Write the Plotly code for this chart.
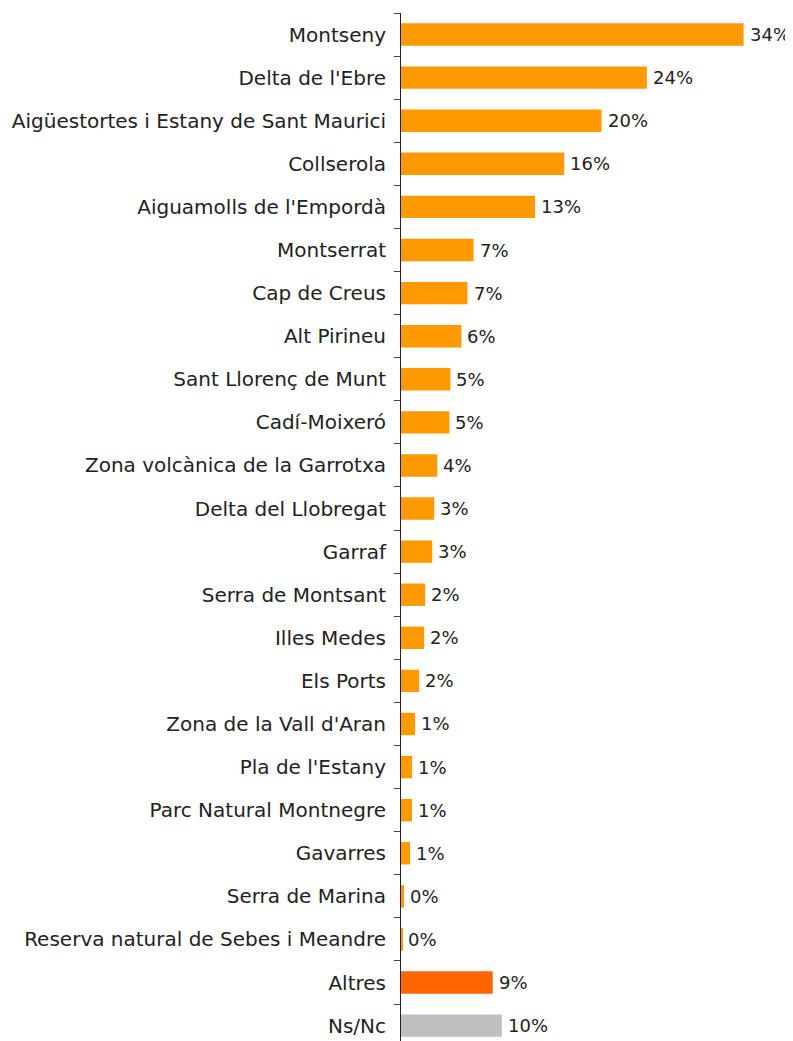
import plotly.graph_objects as go

# Parcs naturals (ordre de dalt a baix)
categories = [
    "Montseny", "Delta de l'Ebre", "Aigüestortes i Estany de Sant Maurici",
    "Collserola", "Aiguamolls de l'Empordà", "Montserrat", "Cap de Creus",
    "Alt Pirineu", "Sant Llorenç de Munt", "Cadí-Moixeró",
    "Zona volcànica de la Garrotxa", "Delta del Llobregat", "Garraf",
    "Serra de Montsant", "Illes Medes", "Els Ports", "Zona de la Vall d'Aran",
    "Pla de l'Estany", "Parc Natural Montnegre", "Gavarres", "Serra de Marina",
    "Reserva natural de Sebes i Meandre", "Altres", "Ns/Nc",
]
values = [34.0, 24.4, 19.9, 16.2, 13.3, 7.2, 6.6, 6.0, 4.9, 4.8,
          3.6, 3.3, 3.1, 2.4, 2.3, 1.8, 1.4, 1.1, 1.1, 0.9,
          0.3, 0.1, 9.1, 10.0]
colors = ["#FF9900"] * 22 + ["#FF6600", "#BFBFBF"]

FONT = "DejaVu Sans"
SIZE = 20

fig = go.Figure(go.Bar(
    x=values, y=categories, orientation="h",
    marker=dict(color=colors, line=dict(width=0)),
    hoverinfo="skip",
))

for c, v in zip(categories, values):
    fig.add_annotation(x=v, y=c, text=f"{v:.0f}%", showarrow=False,
                       xanchor="left", xshift=4,
                       font=dict(family=FONT, size=18, color="#222"))

# the page body adds an 8px margin, so the figure is 8px smaller
fig.update_layout(
    width=785, height=1033,
    margin=dict(l=393, r=0, t=5, b=0),
    paper_bgcolor="white", plot_bgcolor="white",
    bargap=0.48, showlegend=False,
    font=dict(family=FONT, size=SIZE, color="#222"),
)
fig.update_xaxes(range=[0, 38.9], visible=False, showgrid=False, zeroline=False)
fig.update_yaxes(
    type="category", categoryorder="array", categoryarray=categories,
    range=[23.357, -0.5], showgrid=False, zeroline=False,
    showline=True, linecolor="#222", linewidth=1,
    ticks="outside", tickson="boundaries", ticklen=6, tickcolor="#444",
    ticklabelstandoff=10,
)

fig.write_html("out.html")
